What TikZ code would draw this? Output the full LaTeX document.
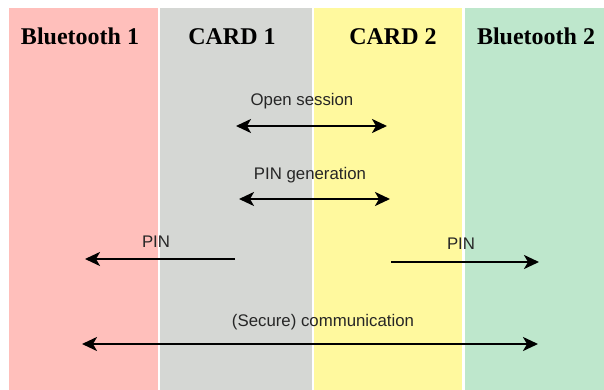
\documentclass[tikz,border=0pt]{standalone}
\usepackage{fontspec}
\setmainfont{Liberation Serif}
\newfontfamily\labelfont{Liberation Sans}
\usetikzlibrary{arrows.meta}
\definecolor{pinkc}{HTML}{FFBFBB}
\definecolor{grayc}{HTML}{D5D7D4}
\definecolor{yellowc}{HTML}{FFF99E}
\definecolor{greenc}{HTML}{BEE7CC}
\tikzset{
  lane/.style={draw=none, inner sep=0pt, anchor=north west, minimum height=382pt},
  header/.style={anchor=base, inner sep=0pt, font=\fontsize{24}{28}\selectfont\bfseries},
  msglabel/.style={anchor=base, inner sep=0pt, font=\labelfont\fontsize{16.8}{20}\selectfont, text=black!85},
  tip/.style={},
  msg/.style={line width=2.2pt, {Stealth[length=15pt,width=14pt,inset=4pt]}-{Stealth[length=15pt,width=14pt,inset=4pt]}},
  msgone/.style={line width=2.2pt, -{Stealth[length=15pt,width=14pt,inset=4pt]}}
}
\begin{document}
\begin{tikzpicture}[x=1pt,y=-1pt]
\useasboundingbox (0,0) rectangle (604,390);
\fill[white] (0,0) rectangle (604,390);
% lanes
\node[lane, fill=pinkc, minimum width=149pt] (bt1) at (9,8) {};
\node[lane, fill=grayc, minimum width=152pt] (card1) at (160,8) {};
\node[lane, fill=yellowc, minimum width=148pt] (card2) at (314,8) {};
\node[lane, fill=greenc, minimum width=139pt] (bt2) at (465,8) {};
% headers
\node[header] (h1) at (80,45) {Bluetooth 1};
\node[header] (h2) at (232,45) {CARD 1};
\node[header] (h3) at (393,45) {CARD 2};
\node[header] (h4) at (536,45) {Bluetooth 2};
% labels
\node[msglabel] (l1) at (302,106) {Open session};
\node[msglabel] (l2) at (310,179) {PIN generation};
\node[msglabel] (l3) at (156,247) {PIN};
\node[msglabel] (l4) at (461,249) {PIN};
\node[msglabel] (l5) at (323,326) {(Secure) communication};
% arrow end points
\coordinate (a1s) at (236,126);
\coordinate (a1e) at (387,126);
\coordinate (a2s) at (239,199);
\coordinate (a2e) at (390,199);
\coordinate (a3s) at (235,259);
\coordinate (a3e) at (85,259);
\coordinate (a4s) at (391,262);
\coordinate (a4e) at (539,262);
\coordinate (a5s) at (82,344);
\coordinate (a5e) at (538,344);
% arrows
\draw[msg] (a1s) -- (a1e);
\draw[msg] (a2s) -- (a2e);
\draw[msgone] (a3s) -- (a3e);
\draw[msgone] (a4s) -- (a4e);
\draw[msg] (a5s) -- (a5e);
\end{tikzpicture}
\end{document}
